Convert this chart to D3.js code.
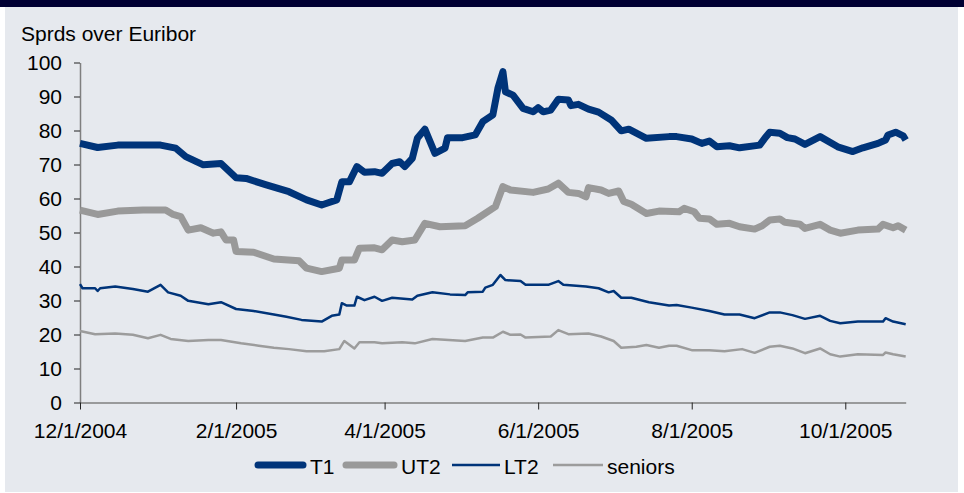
<!DOCTYPE html>
<html lang="en">
<head>
    <meta charset="utf-8" />
    <title>Sprds over Euribor</title>
    <style type="text/css">
        body{ margin:0; background:#fff; }
        text{ font-family:"Liberation Sans", Arial, sans-serif; fill:#000; }
    </style>
</head>
<body>
<script src="https://cdn.jsdelivr.net/npm/d3@7"></script>
<script>
// data
var xTicks = ["2004-12-01","2005-02-01","2005-04-01","2005-06-01","2005-08-01","2005-10-01"];
var yTicks = [0,10,20,30,40,50,60,70,80,90,100];
var seriesNames = ["T1","UT2","LT2","seniors"];

var t1Dates = ["2004-12-01","2004-12-08","2004-12-16","2005-01-02","2005-01-08","2005-01-12","2005-01-19","2005-01-26",
    "2005-02-01","2005-02-05","2005-02-13","2005-02-22","2005-03-01","2005-03-07","2005-03-13","2005-03-15","2005-03-18",
    "2005-03-21","2005-03-24","2005-03-28","2005-03-31","2005-04-04","2005-04-07","2005-04-09","2005-04-12","2005-04-14",
    "2005-04-17","2005-04-21","2005-04-25","2005-04-26","2005-05-02","2005-05-07","2005-05-10","2005-05-14","2005-05-16",
    "2005-05-18","2005-05-19","2005-05-22","2005-05-26","2005-05-30","2005-06-01","2005-06-03","2005-06-06","2005-06-09",
    "2005-06-13","2005-06-14","2005-06-17","2005-06-21","2005-06-25","2005-06-30","2005-07-04","2005-07-07","2005-07-14",
    "2005-07-23","2005-07-26","2005-08-01","2005-08-05","2005-08-08","2005-08-11","2005-08-16","2005-08-20","2005-08-28",
    "2005-08-30","2005-09-01","2005-09-05","2005-09-08","2005-09-11","2005-09-15","2005-09-21","2005-09-28","2005-10-04",
    "2005-10-08","2005-10-14","2005-10-17","2005-10-18","2005-10-21","2005-10-24","2005-10-25"];
var t1 = [76.2,75.0,75.7,75.7,74.8,72.3,69.9,70.3,
    66.1,65.9,64.0,62.0,59.6,58.1,59.6,64.9,64.9,
    69.4,67.7,67.9,67.4,70.3,70.8,69.4,71.8,77.7,
    80.4,73.3,74.8,77.9,77.9,78.7,82.6,84.6,92.4,
    97.3,91.4,90.4,86.5,85.5,86.7,85.5,86.0,89.2,
    89.0,87.3,87.7,86.3,85.4,83.1,79.9,80.4,77.7,
    78.2,78.2,77.5,76.2,76.9,75.2,75.5,74.9,75.7,
    77.7,79.5,79.2,77.9,77.5,75.9,78.2,75.2,73.8,
    74.9,76.2,77.2,78.7,79.5,78.4,77.2];

var ut2Dates = ["2004-12-01","2004-12-08","2004-12-16","2004-12-26","2005-01-04","2005-01-07","2005-01-10","2005-01-13",
    "2005-01-18","2005-01-23","2005-01-26","2005-01-28","2005-01-31","2005-02-01","2005-02-08","2005-02-16","2005-02-26",
    "2005-03-01","2005-03-07","2005-03-14","2005-03-15","2005-03-20","2005-03-22","2005-03-28","2005-03-31","2005-04-04",
    "2005-04-08","2005-04-13","2005-04-17","2005-04-23","2005-05-03","2005-05-08","2005-05-15","2005-05-18","2005-05-21",
    "2005-05-30","2005-06-05","2005-06-09","2005-06-13","2005-06-17","2005-06-20","2005-06-21","2005-06-26","2005-06-29",
    "2005-07-03","2005-07-05","2005-07-08","2005-07-14","2005-07-19","2005-07-27","2005-07-29","2005-08-02","2005-08-04",
    "2005-08-08","2005-08-11","2005-08-16","2005-08-20","2005-08-26","2005-08-29","2005-09-01","2005-09-05","2005-09-07",
    "2005-09-13","2005-09-15","2005-09-21","2005-09-25","2005-09-29","2005-10-06","2005-10-14","2005-10-16","2005-10-20",
    "2005-10-22","2005-10-25"];
var ut2 = [56.6,55.3,56.3,56.6,56.6,55.3,54.7,50.7,
    51.4,49.8,50.2,47.8,47.8,44.4,44.2,42.2,41.7,
    39.5,38.5,39.5,41.9,41.9,45.4,45.5,44.9,47.8,
    47.3,47.8,52.7,51.7,52.0,54.2,57.6,63.5,62.5,
    61.8,62.8,64.5,61.8,61.5,60.5,63.2,62.5,61.5,
    62.2,59.1,58.3,55.6,56.3,56.1,57.1,56.1,54.2,
    54.0,52.4,52.7,51.7,51.0,52.0,53.7,54.0,53.0,
    52.4,51.2,52.4,50.7,49.8,50.7,51.0,52.4,51.4,
    52.0,50.7];

var lt2Dates = ["2004-12-01","2004-12-02","2004-12-07","2004-12-08","2004-12-09","2004-12-15","2004-12-22","2004-12-28",
    "2005-01-02","2005-01-05","2005-01-10","2005-01-13","2005-01-21","2005-01-26","2005-02-01","2005-02-08","2005-02-16",
    "2005-02-21","2005-02-27","2005-03-07","2005-03-11","2005-03-14","2005-03-15","2005-03-17","2005-03-20","2005-03-21",
    "2005-03-24","2005-03-28","2005-03-31","2005-04-04","2005-04-12","2005-04-14","2005-04-20","2005-04-27","2005-05-03",
    "2005-05-04","2005-05-10","2005-05-11","2005-05-14","2005-05-17","2005-05-19","2005-05-25","2005-05-27","2005-06-05",
    "2005-06-09","2005-06-11","2005-06-20","2005-06-25","2005-06-29","2005-07-01","2005-07-04","2005-07-08","2005-07-15",
    "2005-07-23","2005-07-26","2005-08-01","2005-08-08","2005-08-14","2005-08-20","2005-08-26","2005-09-01","2005-09-05",
    "2005-09-10","2005-09-15","2005-09-21","2005-09-25","2005-09-29","2005-10-06","2005-10-16","2005-10-17","2005-10-20",
    "2005-10-25"];
var lt2 = [34.8,33.6,33.6,32.8,33.6,34.1,33.4,32.6,
    34.6,32.4,31.4,29.9,28.9,29.5,27.5,26.9,25.9,
    25.2,24.3,23.8,25.5,25.9,29.2,28.5,28.5,31.1,
    30.1,31.1,29.9,30.8,30.3,31.4,32.4,31.8,31.6,
    32.4,32.6,33.8,34.6,37.5,36.0,35.7,34.6,34.6,
    35.7,34.6,34.1,33.6,32.4,32.8,30.8,30.8,29.5,
    28.5,28.7,27.9,26.9,25.9,25.9,24.8,26.5,26.5,
    25.7,24.6,25.5,24.0,23.3,23.8,23.8,24.8,23.8,
    23.0];

var senDates = ["2004-12-01","2004-12-07","2004-12-15","2004-12-22","2004-12-28","2005-01-02","2005-01-06","2005-01-13",
    "2005-01-21","2005-01-26","2005-02-03","2005-02-10","2005-02-16","2005-02-22","2005-03-01","2005-03-08","2005-03-14",
    "2005-03-16","2005-03-20","2005-03-22","2005-03-28","2005-03-31","2005-04-08","2005-04-13","2005-04-20","2005-05-03",
    "2005-05-10","2005-05-14","2005-05-18","2005-05-21","2005-05-25","2005-05-27","2005-06-06","2005-06-09","2005-06-13",
    "2005-06-21","2005-06-26","2005-07-01","2005-07-04","2005-07-10","2005-07-14","2005-07-19","2005-07-23","2005-07-26",
    "2005-08-01","2005-08-08","2005-08-14","2005-08-21","2005-08-26","2005-09-01","2005-09-05","2005-09-10","2005-09-15",
    "2005-09-21","2005-09-25","2005-09-29","2005-10-06","2005-10-16","2005-10-17","2005-10-20","2005-10-25"];
var seniors = [21.0,20.1,20.3,19.9,18.9,19.9,18.7,18.1,
    18.4,18.4,17.4,16.7,16.1,15.7,15.1,15.1,15.7,
    18.1,15.9,17.7,17.7,17.4,17.7,17.4,18.7,18.1,
    19.1,19.1,20.8,19.9,20.0,19.1,19.4,21.3,20.1,
    20.3,19.4,18.1,16.1,16.4,16.9,16.1,16.7,16.7,
    15.4,15.4,15.1,15.7,14.6,16.4,16.7,15.9,14.5,
    15.9,14.2,13.5,14.2,14.0,14.7,14.2,13.5];

var width = 964, height = 493;
var parse = d3.timeParse("%Y-%m-%d");
var fmt = d3.timeFormat("%-m/%-d/%Y");

var svg = d3.select("body").append("svg")
    .attr("width", width)
    .attr("height", height);

// frame
svg.append("rect").attr("x",5).attr("y",0).attr("width",953).attr("height",492).attr("fill","#e6e9ee");
svg.append("rect").attr("x",0).attr("y",0).attr("width",width).attr("height",7).attr("fill","#000033");

var x = d3.scaleTime()
    .domain([parse("2004-12-01"), parse("2005-10-25")])
    .range([80, 905.7]);
var y = d3.scaleLinear()
    .domain([0, 100])
    .range([402.5, 62.5]);

svg.append("text")
    .attr("x", 21).attr("y", 41)
    .style("font-size", "21px")
    .text("Sprds over Euribor");

// axes
var yAxis = svg.append("g")
    .attr("transform", "translate(80,0)")
    .call(d3.axisLeft(y).tickValues(yTicks).tickSize(6).tickSizeOuter(0).tickPadding(12));
var xAxis = svg.append("g")
    .attr("transform", "translate(0,402.5)")
    .call(d3.axisBottom(x).tickValues(xTicks.map(parse)).tickFormat(fmt)
        .tickSize(7).tickSizeOuter(0).tickPadding(14));

svg.selectAll(".domain").attr("stroke", "#7f7f7f").attr("stroke-width", 1.5);
svg.selectAll(".tick line").attr("stroke", "#222");
svg.selectAll(".tick text").style("font-size", "21px").attr("fill", "#000")
    .style("font-family", "'Liberation Sans', Arial, sans-serif");

// series
var series = [
    {name:"T1", dates:t1Dates, vals:t1, color:"#003479", w:7},
    {name:"UT2", dates:ut2Dates, vals:ut2, color:"#999999", w:7},
    {name:"LT2", dates:lt2Dates, vals:lt2, color:"#003479", w:2.5},
    {name:"seniors", dates:senDates, vals:seniors, color:"#9c9c9c", w:2.5}
];

var line = d3.line()
    .x(function(d){ return x(d[0]); })
    .y(function(d){ return y(d[1]); });

series.slice().reverse().forEach(function(s){
    var pts = s.dates.map(function(d,i){ return [parse(d), s.vals[i]]; });
    svg.append("path")
        .datum(pts)
        .attr("fill", "none")
        .attr("stroke", s.color)
        .attr("stroke-width", s.w)
        .attr("stroke-linejoin", "round")
        .attr("d", line);
});

// legend
var legX = [255, 343, 452, 553];
var legLen = [51, 54, 48, 50];
var leg = svg.append("g");
series.forEach(function(s,i){
    leg.append("line")
        .attr("x1", legX[i] + (s.w > 3 ? 3 : 0)).attr("x2", legX[i] + legLen[i] - (s.w > 3 ? 3 : 0))
        .attr("y1", 465).attr("y2", 465)
        .attr("stroke", s.color)
        .attr("stroke-width", s.w)
        .attr("stroke-linecap", s.w > 3 ? "round" : "butt");
    leg.append("text")
        .attr("x", legX[i] + legLen[i] + 4)
        .attr("y", 474)
        .style("font-size", "21px")
        .text(seriesNames[i]);
});
</script>
</body>
</html>
